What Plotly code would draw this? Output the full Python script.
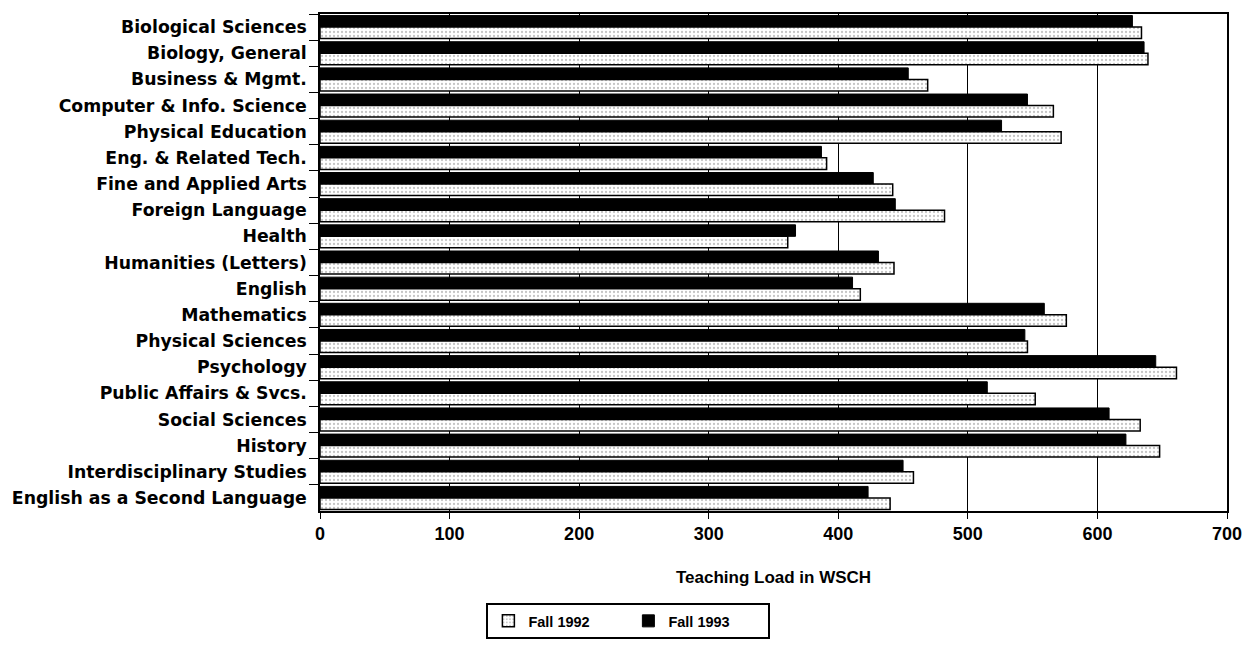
import plotly.graph_objects as go

# Teaching load (WSCH) per discipline, listed top to bottom
categories = [
    "Biological Sciences", "Biology, General", "Business & Mgmt.",
    "Computer & Info. Science", "Physical Education", "Eng. & Related Tech.",
    "Fine and Applied Arts", "Foreign Language", "Health",
    "Humanities (Letters)", "English", "Mathematics", "Physical Sciences",
    "Psychology", "Public Affairs & Svcs.", "Social Sciences", "History",
    "Interdisciplinary Studies", "English as a Second Language",
]
fall_1992 = [634, 639, 469, 566, 572, 391, 442, 482, 361, 443, 417, 576,
             546, 661, 552, 633, 648, 458, 440]
fall_1993 = [627, 636, 454, 546, 526, 387, 427, 444, 367, 431, 411, 559,
             544, 645, 515, 609, 622, 450, 423]
x_ticks = [0, 100, 200, 300, 400, 500, 600, 700]

label_font = dict(family="DejaVu Sans", size=17.3, color="black", weight="bold")
num_font = dict(family="Liberation Sans", size=18, color="black", weight="bold")

fig = go.Figure()

# Fall 1993 drawn first so it sits on the upper half of each category slot
fig.add_trace(go.Bar(
    y=categories, x=fall_1993, orientation="h", name="Fall 1993",
    marker=dict(color="black", line=dict(color="black", width=1)),
    legendrank=2,
))
fig.add_trace(go.Bar(
    y=categories, x=fall_1992, orientation="h", name="Fall 1992",
    marker=dict(
        color="white",
        line=dict(color="black", width=1.5),
        pattern=dict(shape=".", fgcolor="#8a8a8a", bgcolor="white",
                     size=4, solidity=0.25),
    ),
    legendrank=1,
))

fig.update_layout(
    width=1254, height=651,
    margin=dict(l=320, r=22, t=12, b=139),
    paper_bgcolor="white", plot_bgcolor="white",
    barmode="group", bargap=0.12, bargroupgap=0.0,
    showlegend=True,
    legend=dict(
        orientation="h", x=0.34, xanchor="center", y=-0.185, yanchor="top",
        bordercolor="black", borderwidth=2,
        font=dict(family="Liberation Sans", size=14.5, color="black", weight="bold"),
        itemwidth=30, entrywidth=95,
    ),
    xaxis=dict(
        range=[0, 700], tickvals=x_ticks, ticktext=[str(v) for v in x_ticks],
        tickfont=num_font,
        showgrid=True, gridcolor="black", gridwidth=1,
        showline=True, linecolor="black", linewidth=1.5, mirror=True,
        ticks="outside", ticklen=6, tickcolor="black",
        zeroline=False,
        title=dict(text="Teaching Load in WSCH",
                   font=dict(family="Liberation Sans", size=17, color="black", weight="bold"),
                   standoff=28),
    ),
    yaxis=dict(
        autorange="reversed",
        tickfont=label_font,
        showline=True, linecolor="black", linewidth=1.5, mirror=True,
        ticks="outside", ticklen=9, tickcolor="black", tickson="boundaries",
        ticklabelstandoff=8,
        showgrid=False,
    ),
)

fig.write_html("out.html")
